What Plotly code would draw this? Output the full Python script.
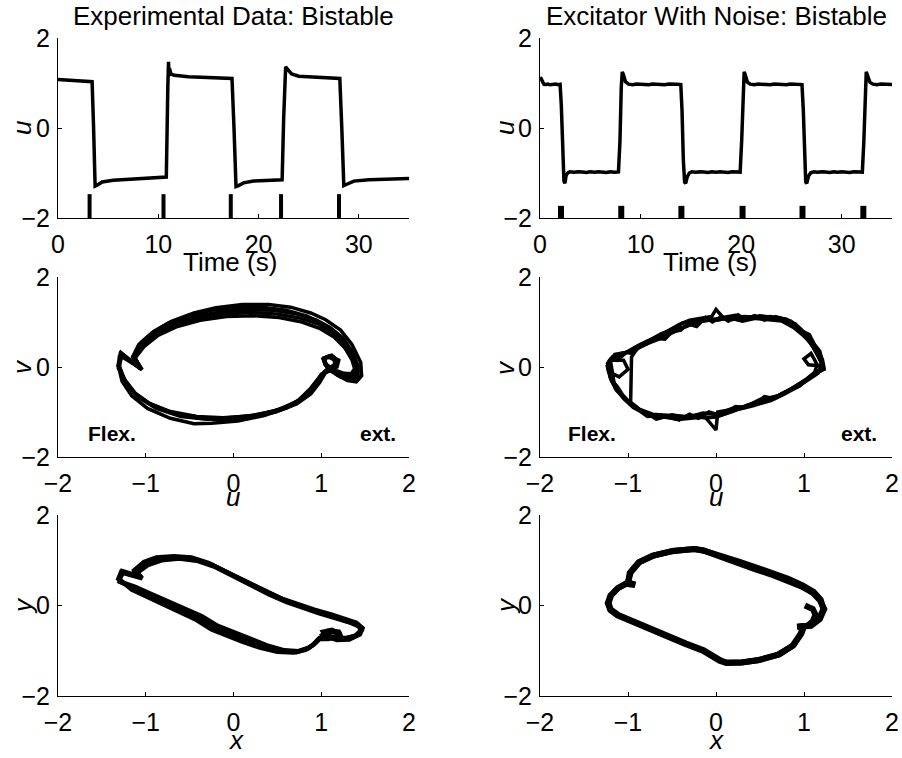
import plotly.graph_objects as go

W, H = 902, 758

# ---------------- data ----------------
# Top-left: experimental time series u(t)
TL_T = [0.0, 1.0, 2.0, 3.0, 3.40, 3.55, 3.70, 3.90, 4.40, 5.5, 7.5, 10.80,
        10.95, 11.02, 11.08, 11.13, 11.25, 11.6, 13.0, 15.0, 17.35,
        17.55, 17.75, 18.0, 18.5, 19.5, 21.0, 22.35,
        22.50, 22.70, 22.90, 23.3, 24.0, 26.0, 28.10,
        28.30, 28.50, 28.8, 29.5, 31.0, 33.0, 35.0]
TL_U = [1.08, 1.07, 1.06, 1.04, 1.03, 0.0, -1.29, -1.27, -1.20, -1.16, -1.13, -1.09,
        0.90, 1.47, 1.15, 1.32, 1.20, 1.17, 1.14, 1.12, 1.10,
        0.0, -1.30, -1.28, -1.22, -1.18, -1.16, -1.15,
        0.20, 1.36, 1.30, 1.20, 1.15, 1.12, 1.10,
        0.0, -1.28, -1.25, -1.18, -1.15, -1.13, -1.12]
TL_PULSES = [3.15, 10.52, 17.23, 22.24, 28.02]
TL_PULSE_TOP = -1.47

# Top-right: excitator with noise u(t)
TR_T = [0.00, 0.12, 0.25, 0.40, 0.60, 0.80, 1.00, 1.20, 1.40, 1.60, 1.80, 2.00,
        2.12, 2.25, 2.38, 2.48, 2.60, 2.80, 3.00, 3.40, 3.80, 4.20, 4.60, 5.00, 5.40, 5.80, 6.20, 6.60, 7.00, 7.40, 7.80,
        7.95, 8.08, 8.18, 8.30, 8.50, 8.80, 9.20, 9.60, 10.0, 10.4, 10.8, 11.2, 11.6, 12.0, 12.4, 12.8, 13.2, 13.6, 14.0,
        14.12, 14.25, 14.38, 14.48, 14.65, 14.85, 15.1, 15.5, 15.9, 16.3, 16.7, 17.1, 17.5, 17.9, 18.3, 18.7, 19.1, 19.5, 19.9,
        20.05, 20.18, 20.30, 20.42, 20.62, 20.9, 21.3, 21.7, 22.1, 22.5, 22.9, 23.3, 23.7, 24.1, 24.5, 24.9, 25.3, 25.7, 26.05,
        26.18, 26.30, 26.42, 26.52, 26.7, 26.9, 27.2, 27.6, 28.0, 28.4, 28.8, 29.2, 29.6, 30.0, 30.4, 30.8, 31.2, 31.6, 32.05,
        32.2, 32.32, 32.44, 32.56, 32.8, 33.1, 33.5, 33.9, 34.3, 34.7, 35.0]
TR_U = [1.12, 1.10, 1.03, 0.97, 0.965, 0.975, 0.96, 0.97, 0.965, 0.975, 0.96, 0.97,
        0.50, -0.60, -1.18, -1.23, -1.05, -0.99, -0.975, -0.985, -0.97, -0.98, -0.99, -0.975, -0.985, -0.97, -0.98, -0.99, -0.975, -0.985, -0.975,
        -0.30, 0.90, 1.25, 1.18, 1.03, 0.975, 0.96, 0.975, 0.965, 0.97, 0.96, 0.975, 0.965, 0.97, 0.96, 0.975, 0.965, 0.97, 0.965,
        0.40, -0.70, -1.20, -1.23, -1.08, -1.00, -0.975, -0.985, -0.97, -0.98, -0.99, -0.975, -0.985, -0.97, -0.98, -0.99, -0.975, -0.985, -0.98,
        -0.30, 0.90, 1.25, 1.17, 1.02, 0.975, 0.96, 0.975, 0.965, 0.97, 0.96, 0.975, 0.965, 0.97, 0.96, 0.975, 0.965, 0.97, 0.965,
        0.40, -0.70, -1.20, -1.23, -1.07, -1.00, -0.975, -0.985, -0.97, -0.98, -0.99, -0.975, -0.985, -0.97, -0.98, -0.99, -0.975, -0.985, -0.98,
        -0.30, 0.90, 1.25, 1.17, 1.02, 0.975, 0.96, 0.975, 0.965, 0.97, 0.965]
TR_PULSES = [2.09, 8.08, 14.06, 20.14, 26.10, 32.15]
TR_PULSE_TOP = -1.73

# Middle-left: experimental phase portrait (u, v), several cycles
ML_U = [
    [-1.32, -1.29, -1.05, -1.14, -1.05, -0.90, -0.70, -0.45, -0.20, 0.10, 0.40, 0.65, 0.88, 1.05, 1.22, 1.35, 1.45, 1.46, 1.40, 1.30, 1.18, 1.06, 1.02, 1.10, 1.20, 1.18, 1.05, 0.98, 0.88, 0.72, 0.48, 0.20, -0.10, -0.40, -0.70, -0.95, -1.12, -1.24, -1.32],
    [-1.30, -1.27, -1.06, -1.12, -1.02, -0.86, -0.64, -0.38, -0.08, 0.22, 0.52, 0.78, 0.98, 1.15, 1.27, 1.35, 1.38, 1.34, 1.26, 1.14, 1.06, 1.03, 1.08, 1.16, 1.14, 1.04, 0.96, 0.86, 0.70, 0.46, 0.18, -0.12, -0.42, -0.72, -0.97, -1.14, -1.25, -1.30],
    [-1.31, -1.28, -1.04, -1.13, -1.04, -0.88, -0.67, -0.42, -0.14, 0.16, 0.46, 0.72, 0.94, 1.10, 1.25, 1.36, 1.42, 1.42, 1.36, 1.26, 1.15, 1.05, 1.03, 1.12, 1.19, 1.16, 1.04, 0.96, 0.84, 0.62, 0.35, 0.05, -0.25, -0.45, -0.72, -0.98, -1.16, -1.27, -1.31],
    [-1.30, -1.30, -1.06, -1.15, -1.08, -0.93, -0.74, -0.50, -0.25, 0.05, 0.35, 0.60, 0.84, 1.02, 1.18, 1.31, 1.40, 1.40, 1.33, 1.22, 1.12, 1.04, 1.04, 1.14, 1.18, 1.10, 1.00, 0.93, 0.80, 0.60, 0.32, 0.00, -0.30, -0.60, -0.88, -1.08, -1.22, -1.30],
    [-1.31, -1.28, -1.05, -1.13, -1.03, -0.87, -0.66, -0.40, -0.11, 0.19, 0.49, 0.75, 0.96, 1.12, 1.26, 1.36, 1.40, 1.38, 1.30, 1.18, 1.08, 1.03, 1.06, 1.14, 1.16, 1.06, 0.98, 0.88, 0.74, 0.52, 0.24, -0.06, -0.36, -0.66, -0.92, -1.11, -1.23, -1.31],
]
ML_V = [
    [0.00, 0.30, -0.05, 0.25, 0.55, 0.80, 1.02, 1.20, 1.32, 1.39, 1.39, 1.33, 1.20, 1.05, 0.82, 0.50, 0.10, -0.20, -0.33, -0.30, -0.18, 0.02, 0.18, 0.25, 0.15, 0.00, -0.12, -0.35, -0.60, -0.82, -1.00, -1.12, -1.17, -1.14, -1.02, -0.82, -0.58, -0.28, 0.00],
    [0.02, 0.28, -0.04, 0.20, 0.45, 0.70, 0.90, 1.04, 1.12, 1.14, 1.10, 1.00, 0.86, 0.66, 0.42, 0.16, -0.04, -0.15, -0.14, -0.06, 0.06, 0.18, 0.24, 0.14, 0.00, -0.10, -0.30, -0.55, -0.80, -0.98, -1.09, -1.13, -1.10, -0.99, -0.80, -0.56, -0.28, 0.02],
    [0.01, 0.32, -0.06, 0.22, 0.50, 0.76, 0.97, 1.13, 1.23, 1.27, 1.26, 1.18, 1.05, 0.88, 0.64, 0.32, 0.02, -0.22, -0.30, -0.25, -0.12, 0.04, 0.20, 0.26, 0.14, -0.02, -0.14, -0.32, -0.62, -0.90, -1.08, -1.20, -1.25, -1.26, -1.14, -0.92, -0.64, -0.32, 0.01],
    [0.00, 0.26, -0.03, 0.22, 0.50, 0.76, 0.98, 1.15, 1.26, 1.32, 1.32, 1.26, 1.13, 0.95, 0.72, 0.42, 0.06, -0.18, -0.26, -0.22, -0.10, 0.06, 0.20, 0.22, 0.10, -0.04, -0.16, -0.40, -0.68, -0.90, -1.05, -1.14, -1.16, -1.10, -0.92, -0.68, -0.38, 0.00],
    [0.01, 0.29, -0.05, 0.21, 0.47, 0.73, 0.94, 1.09, 1.18, 1.21, 1.18, 1.09, 0.96, 0.77, 0.53, 0.24, -0.01, -0.18, -0.20, -0.14, -0.02, 0.12, 0.22, 0.20, 0.06, -0.06, -0.22, -0.47, -0.74, -0.95, -1.07, -1.13, -1.12, -1.04, -0.86, -0.62, -0.33, 0.01],
]

# Middle-right: noisy excitator phase portrait (u, v)
MR_U = [
    [-1.24, -1.20, -1.10, -1.00, -0.90, -0.80, -0.68, -0.55, -0.42, -0.30, -0.18, -0.05, 0.00, 0.08, 0.22, 0.35, 0.50, 0.65, 0.80, 0.92, 1.02, 1.10, 1.17, 1.22, 1.16, 1.05, 0.93, 0.78, 0.63, 0.42, 0.21, 0.00, -0.20, -0.40, -0.60, -0.74, -0.88, -0.97, -1.06, -1.12, -1.20, -1.24],
    [-0.97, -0.96, -0.88, -0.75, -0.62, -0.50, -0.38, -0.25, -0.12, 0.02, 0.15, 0.30, 0.45, 0.60, 0.75, 0.88, 0.98, 1.08, 1.15, 1.20, 1.18, 1.10, 1.00, 0.88, 0.74, 0.58, 0.40, 0.20, 0.02, 0.00, -0.15, -0.35, -0.55, -0.72, -0.86, -0.97],
    [-1.20, -1.05, -1.00, -1.10, -1.22, -1.23, -1.15, -1.02, -0.90, -0.78, -0.65, -0.52, -0.40, -0.28, -0.15, 0.00, 0.12, 0.28, 0.42, 0.58, 0.72, 0.85, 0.96, 1.05, 1.12, 1.18, 1.20, 1.05, 1.00, 1.08, 1.15, 1.12, 1.02, 0.92, 0.80, 0.66, 0.50, 0.34, 0.18, 0.02, -0.15, -0.32, -0.50, -0.66, -0.80, -0.94, -1.05, -1.15, -1.20],
    [-1.23, -1.18, -1.08, -0.98, -0.86, -0.74, -0.60, -0.46, -0.34, -0.22, -0.10, 0.04, 0.18, 0.32, 0.48, 0.62, 0.76, 0.88, 0.99, 1.08, 1.16, 1.21, 1.23, 1.15, 1.04, 0.94, 0.82, 0.68, 0.52, 0.36, 0.20, 0.05, -0.10, -0.28, -0.46, -0.62, -0.78, -0.92, -1.04, -1.13, -1.19, -1.23],
    [-1.22, -1.15, -1.12, -1.02, -0.95, -0.85, -0.78, -0.70, -0.58, -0.50, -0.40, -0.32, -0.22, -0.12, -0.04, 0.06, 0.14, 0.25, 0.33, 0.44, 0.55, 0.68, 0.80, 0.90, 0.98, 1.06, 1.12, 1.18, 1.21, 1.19, 1.10, 1.02, 0.95, 0.86, 0.76, 0.66, 0.55, 0.45, 0.33, 0.22, 0.12, 0.02, -0.08, -0.20, -0.30, -0.42, -0.55, -0.68, -0.80, -0.92, -1.02, -1.10, -1.18, -1.22],
]
MR_V = [
    [0.05, 0.18, 0.24, 0.36, 0.46, 0.56, 0.66, 0.80, 0.94, 1.04, 1.08, 1.12, 1.28, 1.10, 1.15, 1.08, 1.14, 1.10, 1.06, 0.90, 0.68, 0.45, 0.22, 0.02, -0.14, -0.28, -0.44, -0.60, -0.74, -0.86, -0.96, -1.11, -1.12, -1.16, -1.12, -1.08, -0.95, -0.81, -0.62, -0.44, -0.25, 0.05],
    [-0.78, 0.22, 0.46, 0.60, 0.74, 0.82, 0.98, 1.02, 1.08, 1.04, 1.10, 1.02, 1.08, 1.05, 1.02, 0.88, 0.72, 0.52, 0.30, 0.08, -0.05, -0.18, -0.32, -0.46, -0.62, -0.70, -0.84, -0.94, -1.00, -1.40, -1.05, -1.10, -1.08, -1.05, -0.95, -0.78],
    [0.15, 0.15, -0.05, -0.22, -0.10, 0.08, 0.28, 0.32, 0.40, 0.52, 0.62, 0.75, 0.85, 0.95, 1.02, 1.06, 1.10, 1.04, 1.12, 1.08, 1.10, 1.02, 0.85, 0.65, 0.45, 0.25, 0.02, 0.05, 0.18, 0.30, 0.05, -0.12, -0.28, -0.40, -0.55, -0.68, -0.72, -0.88, -0.92, -1.05, -1.02, -1.12, -1.06, -1.15, -1.04, -0.90, -0.70, -0.45, 0.15],
    [0.00, 0.22, 0.30, 0.34, 0.50, 0.58, 0.68, 0.84, 0.90, 1.00, 1.04, 1.08, 1.05, 1.12, 1.10, 1.12, 1.05, 0.95, 0.78, 0.58, 0.38, 0.16, -0.05, -0.12, -0.26, -0.40, -0.52, -0.66, -0.76, -0.84, -0.98, -1.08, -1.14, -1.08, -1.16, -1.08, -1.10, -0.90, -0.70, -0.52, -0.30, 0.00],
    [0.12, 0.25, 0.16, 0.32, 0.30, 0.48, 0.52, 0.64, 0.62, 0.78, 0.82, 0.96, 0.90, 1.10, 1.00, 1.12, 1.02, 1.16, 1.06, 1.14, 1.04, 1.12, 1.02, 0.96, 0.80, 0.72, 0.50, 0.35, 0.10, -0.08, -0.20, -0.30, -0.42, -0.50, -0.58, -0.70, -0.66, -0.82, -0.90, -0.88, -1.02, -1.06, -1.00, -1.14, -1.05, -1.18, -1.08, -1.16, -1.00, -0.90, -0.74, -0.56, -0.30, 0.12],
]

# Bottom-left: experimental (x, y)
BL_X = [
    [-1.32, -1.28, -1.05, -1.12, -1.00, -0.85, -0.65, -0.45, -0.25, 0.00, 0.20, 0.38, 0.58, 0.76, 0.95, 1.14, 1.30, 1.42, 1.46, 1.40, 1.28, 1.12, 1.03, 1.08, 1.20, 1.22, 1.10, 0.98, 0.92, 0.85, 0.72, 0.55, 0.35, 0.15, 0.00, -0.20, -0.38, -0.58, -0.76, -0.95, -1.14, -1.32],
    [-1.30, -1.26, -1.04, -1.10, -0.97, -0.82, -0.62, -0.42, -0.22, 0.02, 0.22, 0.40, 0.60, 0.78, 0.97, 1.16, 1.32, 1.43, 1.45, 1.38, 1.25, 1.10, 1.02, 1.06, 1.18, 1.20, 1.08, 0.97, 0.90, 0.82, 0.68, 0.50, 0.30, 0.10, -0.05, -0.25, -0.42, -0.62, -0.80, -0.98, -1.16, -1.30],
    [-1.31, -1.27, -1.06, -1.13, -1.02, -0.88, -0.68, -0.48, -0.28, -0.04, 0.16, 0.34, 0.54, 0.72, 0.92, 1.12, 1.28, 1.40, 1.47, 1.44, 1.32, 1.18, 1.05, 1.02, 1.12, 1.22, 1.15, 1.00, 0.94, 0.86, 0.74, 0.58, 0.38, 0.18, 0.02, -0.18, -0.36, -0.56, -0.74, -0.93, -1.12, -1.31],
]
BL_Y = [
    [0.55, 0.74, 0.62, 0.75, 0.93, 1.03, 1.07, 1.03, 0.90, 0.66, 0.47, 0.29, 0.12, -0.01, -0.13, -0.24, -0.33, -0.43, -0.54, -0.66, -0.72, -0.70, -0.62, -0.56, -0.58, -0.66, -0.72, -0.72, -0.85, -0.95, -1.03, -1.00, -0.90, -0.76, -0.64, -0.48, -0.27, -0.09, 0.07, 0.22, 0.38, 0.55],
    [0.58, 0.72, 0.60, 0.72, 0.90, 1.00, 1.04, 0.99, 0.86, 0.62, 0.43, 0.25, 0.08, -0.05, -0.17, -0.28, -0.37, -0.46, -0.56, -0.68, -0.74, -0.72, -0.64, -0.58, -0.60, -0.68, -0.74, -0.74, -0.88, -0.98, -1.04, -1.02, -0.93, -0.80, -0.68, -0.53, -0.32, -0.14, 0.02, 0.18, 0.35, 0.58],
    [0.54, 0.76, 0.64, 0.78, 0.96, 1.06, 1.09, 1.06, 0.94, 0.70, 0.51, 0.33, 0.16, 0.03, -0.09, -0.20, -0.29, -0.38, -0.50, -0.64, -0.75, -0.76, -0.68, -0.58, -0.54, -0.62, -0.70, -0.70, -0.82, -0.93, -1.01, -0.99, -0.88, -0.73, -0.61, -0.45, -0.24, -0.06, 0.10, 0.25, 0.41, 0.54],
]

# Bottom-right: excitator (x, y)
BR_X = [
    [1.01, 1.10, 1.13, 1.10, 1.04, 0.92, 1.00, 0.97, 0.88, 0.72, 0.50, 0.30, 0.12, 0.04, -0.15, -0.35, -0.55, -0.75, -0.95, -1.12, -1.20, -1.23, -1.20, -1.12, -1.03, -0.92, -1.00, -0.98, -0.88, -0.72, -0.50, -0.25, -0.15, 0.05, 0.25, 0.45, 0.62, 0.80, 0.97, 1.10, 1.18, 1.23, 1.18, 1.08, 0.93],
    [0.93, 1.00, 0.96, 0.87, 0.70, 0.48, 0.28, 0.11, 0.05, -0.14, -0.34, -0.54, -0.74, -0.94, -1.11, -1.20, -1.22, -1.19, -1.11, -1.02, -0.92, -1.00, -0.97, -0.87, -0.70, -0.48, -0.24, -0.14, 0.06, 0.26, 0.46, 0.64, 0.82, 0.98, 1.11, 1.19, 1.22, 1.17, 1.07, 0.93],
]
BR_Y = [
    [0.00, -0.08, -0.20, -0.35, -0.45, -0.47, -0.46, -0.62, -0.88, -1.08, -1.20, -1.26, -1.27, -1.22, -1.00, -0.85, -0.68, -0.50, -0.35, -0.22, -0.10, 0.05, 0.22, 0.38, 0.48, 0.46, 0.50, 0.72, 0.95, 1.10, 1.20, 1.25, 1.22, 1.08, 0.93, 0.80, 0.69, 0.55, 0.42, 0.28, 0.12, -0.08, -0.30, -0.45, -0.47],
    [-0.47, -0.45, -0.63, -0.89, -1.09, -1.21, -1.26, -1.26, -1.21, -0.99, -0.84, -0.67, -0.49, -0.34, -0.21, -0.08, 0.06, 0.23, 0.39, 0.48, 0.46, 0.51, 0.73, 0.96, 1.11, 1.21, 1.25, 1.21, 1.10, 0.97, 0.84, 0.73, 0.59, 0.45, 0.30, 0.13, -0.08, -0.30, -0.44, -0.47],
]

TIME_TICKS = [0, 10, 20, 30]
PHASE_TICKS = [-2, -1, 0, 1, 2]
Y_TICKS = [-2, 0, 2]

# ---------------- figure ----------------
FONT = "Liberation Sans, Arial, Helvetica, sans-serif"
fig = go.Figure()


def add_line(xs, ys, ax, width):
    fig.add_trace(go.Scatter(x=xs, y=ys, mode="lines", xaxis="x" + ax, yaxis="y" + ax,
                             line=dict(color="black", width=width), hoverinfo="skip",
                             showlegend=False))


def pulses(times, top):
    xs, ys = [], []
    for t in times:
        xs += [t, t, None]
        ys += [-2, top, None]
    return xs, ys


add_line(TL_T, TL_U, "", 3.5)
px_, py_ = pulses(TL_PULSES, TL_PULSE_TOP)
add_line(px_, py_, "", 4)
add_line(TR_T, TR_U, "2", 3.5)
px_, py_ = pulses(TR_PULSES, TR_PULSE_TOP)
add_line(px_, py_, "2", 6)
for u, v in zip(ML_U, ML_V):
    add_line(u, v, "3", 3.5)
for u, v in zip(MR_U, MR_V):
    add_line(u, v, "4", 3.5)
for u, v in zip(BL_X, BL_Y):
    add_line(u, v, "5", 4.5)
for u, v in zip(BR_X, BR_Y):
    add_line(u, v, "6", 6)


def X(p):
    return p / W


def Y(p):
    return 1 - p / H


cols = [[X(58), X(409)], [X(540), X(892)]]
rows = [[Y(218), Y(38)], [Y(457), Y(277)], [Y(696), Y(515)]]

axis_common = dict(showline=True, linecolor="black", linewidth=1, ticks="inside", ticklen=4,
                   tickwidth=1, tickcolor="black", showgrid=False, zeroline=False,
                   tickfont=dict(family=FONT, size=25, color="black"), mirror=False,
                   fixedrange=True, automargin=False)

layout = dict(template="none", width=W, height=H, margin=dict(l=0, r=0, t=0, b=0, autoexpand=False),
              plot_bgcolor="white", paper_bgcolor="white", showlegend=False)

names = ["", "2", "3", "4", "5", "6"]
for i, n in enumerate(names):
    r, c = divmod(i, 2)
    xr = [0, 35] if r == 0 else [-2, 2]
    xt = TIME_TICKS if r == 0 else PHASE_TICKS
    layout["xaxis" + n] = dict(axis_common, domain=cols[c], range=xr, tickvals=xt,
                               anchor="y" + n, ticklabelstandoff=4)
    layout["yaxis" + n] = dict(axis_common, domain=rows[r], range=[-2, 2], tickvals=Y_TICKS,
                               anchor="x" + n, ticklabelstandoff=2)

fig.update_layout(**layout)

ann = []


def text(t, x, y, size=26, angle=0, yanchor="middle"):
    ann.append(dict(text=t, x=X(x), y=Y(y), xref="paper", yref="paper", showarrow=False,
                    textangle=angle, xanchor="center", yanchor=yanchor,
                    font=dict(family=FONT, size=size, color="black")))


text("Experimental Data: Bistable", 234, 16)
text("Excitator With Noise: Bistable", 716, 16)
text("Time (s)", 230, 262)
text("Time (s)", 710, 262)
text("<i>u</i>", 22, 128, angle=-90)
text("<i>u</i>", 505, 128, angle=-90)
text("<i>v</i>", 22, 367, angle=-90)
text("<i>v</i>", 505, 367, angle=-90)
text("<i>y</i>", 23, 606, angle=-90)
text("<i>y</i>", 506, 606, angle=-90)
text("<i>u</i>", 233, 497)
text("<i>u</i>", 716, 497)
text("<i>x</i>", 236, 757, yanchor="bottom")
text("<i>x</i>", 716, 757, yanchor="bottom")

for ax, fx, ex in [("3", -1.38, 1.65), ("4", -1.41, 1.63)]:
    for t, xv in [("<b>Flex.</b>", fx), ("<b>ext.</b>", ex)]:
        ann.append(dict(text=t, x=xv, y=-1.47, xref="x" + ax, yref="y" + ax, showarrow=False,
                        xanchor="center", yanchor="middle",
                        font=dict(family=FONT, size=21, color="black")))

fig.update_layout(annotations=ann)
fig.write_html("out.html")
